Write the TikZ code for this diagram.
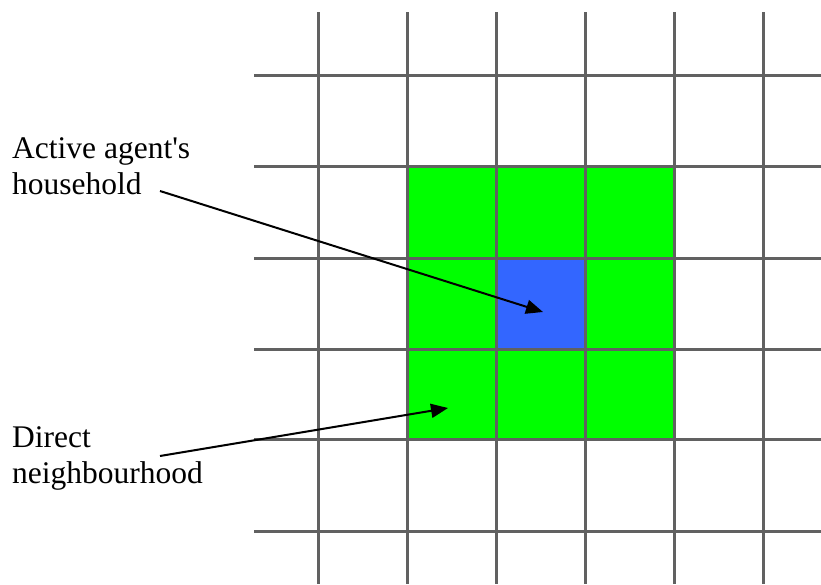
\documentclass[tikz,border=0pt]{standalone}
\usepackage{fontspec}
\setmainfont{Liberation Serif}
\usetikzlibrary{arrows.meta}

\definecolor{nbgreen}{RGB}{0,255,0}
\definecolor{hhblue}{RGB}{51,102,255}

\begin{document}
\begin{tikzpicture}[x=1pt, y=-1pt,
    gridline/.style={line width=3pt, black!62},
    lbl/.style={anchor=north west, inner sep=0pt, align=left,
                font=\fontsize{31.5}{36}\selectfont},
    pointer/.style={-{Triangle[length=17pt, width=14pt]}, line width=2pt}]
  \useasboundingbox (0,0) rectangle (821,584);

  % neighbourhood and household cells
  \fill[nbgreen] (407,166) rectangle (674,439);
  \fill[hhblue] (496,258) rectangle (585,349);

  % grid
  \foreach \x in {318,407,496,585,674,763}
    \draw[gridline] (\x,12) -- (\x,584);
  \foreach \y in {75,166,258,349,439,531}
    \draw[gridline] (254,\y) -- (821,\y);

  % labels
  \node[lbl] (hhlbl) at (12,137) {Active agent\textquotesingle s\\household};
  \node[lbl] (nblbl) at (12,426) {Direct\\neighbourhood};

  \coordinate (hhfrom) at (160,191);
  \coordinate (hhto) at (543,312);
  \coordinate (nbfrom) at (160,456);
  \coordinate (nbto) at (448,408);

  \draw[pointer] (hhfrom) -- (hhto);
  \draw[pointer] (nbfrom) -- (nbto);
\end{tikzpicture}
\end{document}
